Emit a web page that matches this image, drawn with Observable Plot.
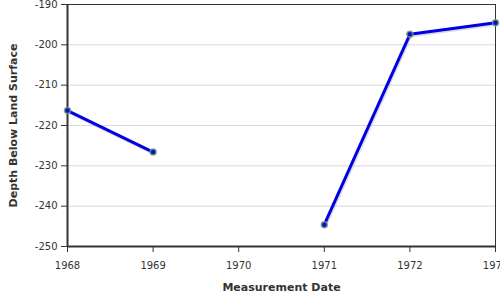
<!DOCTYPE html>
<html>
<head>
<meta charset="utf-8">
<script src="https://cdn.jsdelivr.net/npm/d3@7"></script>
<script src="https://cdn.jsdelivr.net/npm/@observablehq/plot@0.6"></script>
<style>
  html, body { margin: 0; padding: 0; background: white; }
  #chart svg { display: block; }
</style>
</head>
<body>
<div id="chart"></div>
<script>
const years = [1968.0, 1969.0, 1970.0, 1971.0, 1972.0, 1973.0];
const depths = [-216.3, -226.6, null, -244.6, -197.4, -194.5];
const xTicks = [1968, 1969, 1970, 1971, 1972, 1973];
const yTicks = [-250, -240, -230, -220, -210, -200, -190];

const data = years.map((y, i) => ({year: y, depth: depths[i]}));
const pts = data.filter(d => d.depth != null);

const font = "DejaVu Sans, Verdana, sans-serif";

const chart = Plot.plot({
  width: 500,
  height: 300,
  marginLeft: 67,
  marginRight: 5,
  marginTop: 4,
  marginBottom: 54,
  style: {fontFamily: font, fontSize: "10px", color: "#333", background: "white", overflow: "hidden"},
  x: {domain: [1968, 1973], ticks: xTicks, tickFormat: d => String(d)},
  y: {domain: [-250, -190], ticks: yTicks, tickFormat: d => String(d)},
  marks: [
    Plot.gridY(yTicks, {stroke: "#d9d9d9", strokeOpacity: 1, strokeWidth: 1}),
    Plot.axisX({ticks: xTicks, tickFormat: d => String(d), tickSize: 6, tickPadding: 9, stroke: "#333",
      label: "Measurement Date", labelAnchor: "center", labelArrow: "none", labelOffset: 44,
      fontSize: 10}),
    Plot.axisY({ticks: yTicks, tickFormat: d => String(d), tickSize: 6, tickPadding: 4, stroke: "#333",
      label: "Depth Below Land Surface", labelAnchor: "center", labelArrow: "none", labelOffset: 58,
      fontSize: 10}),
    Plot.ruleY([-190], {stroke: "#333", strokeWidth: 1}),
    Plot.ruleX([1973], {stroke: "#333", strokeWidth: 1}),
    Plot.ruleX([1968], {stroke: "#333", strokeWidth: 2}),
    Plot.ruleY([-250], {stroke: "#333", strokeWidth: 2}),
    Plot.line(data, {x: "year", y: "depth", stroke: "#999", strokeWidth: 3, strokeOpacity: 0.35, dx: 1, dy: 1.5, defined: d => d.depth != null}),
    Plot.line(data, {x: "year", y: "depth", stroke: "#0000e6", strokeWidth: 3, defined: d => d.depth != null}),
    Plot.dot(pts, {x: "year", y: "depth", r: 3, fill: "#0018c0", stroke: "#7f9a82", strokeWidth: 1.5, strokeOpacity: 0.8})
  ]
});
chart.querySelectorAll("[aria-label='x-axis label'] text, [aria-label='y-axis label'] text").forEach(t => {
  t.setAttribute("font-weight", "bold");
  t.setAttribute("font-size", "11");
  t.setAttribute("fill", "#333");
});
document.getElementById("chart").appendChild(chart);
</script>
</body>
</html>
